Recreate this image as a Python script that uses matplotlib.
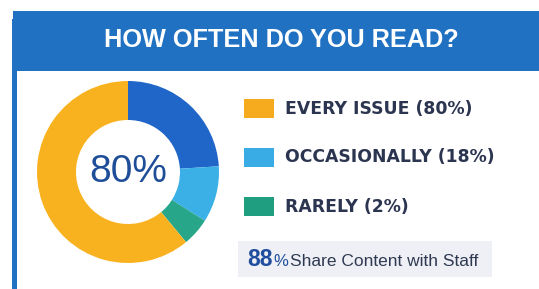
import matplotlib
matplotlib.use("Agg")
import matplotlib.pyplot as plt
from matplotlib.patches import Rectangle

# data
segment_shares = [24, 10, 5, 61]          # donut segments, clockwise from top
segment_colors = ['#2066C8', '#3BB0E6', '#27A68A', '#F9B21F']
legend_labels = ['EVERY ISSUE (80%)', 'OCCASIONALLY (18%)', 'RARELY (2%)']
legend_colors = ['#F6AA1E', '#3AACE5', '#1F9E80']
center_label = '80%'
share_value = '88%'
share_text = 'Share Content with Staff'
title = 'HOW OFTEN DO YOU READ?'

W, H = 539, 289
fig = plt.figure(figsize=(W / 100, H / 100), dpi=100)
fig.patch.set_facecolor('white')

# background axes in pixel coordinates
bg = fig.add_axes([0, 0, 1, 1])
bg.set_xlim(0, W)
bg.set_ylim(H, 0)
bg.axis('off')

blue = '#2171C3'
bg.add_patch(Rectangle((13, 11), W - 13, 60, color=blue, lw=0))
bg.add_patch(Rectangle((12, 19), 5, H - 19, color=blue, lw=0))
bg.text(281, 40, title, color='white', ha='center', va='center',
        fontsize=18.2, fontweight='bold', family='Liberation Sans')

# legend
ys = [108, 157, 206]
for lab, col, y in zip(legend_labels, legend_colors, ys):
    bg.add_patch(Rectangle((244, y - 9.5), 30, 19, color=col, lw=0))
    bg.text(285, y + 0.5, lab, color='#2B3550', ha='left', va='center',
            fontsize=12.4, fontweight='bold', family='DejaVu Sans')

# share box
bg.add_patch(Rectangle((238, 241), 254, 36, color='#EEF0F5', lw=0))
base = 266
bg.text(247, base, share_value[:-1], color='#1F4E9E', ha='left', va='baseline',
        fontsize=16.5, fontweight='bold', family='Liberation Sans')
bg.text(273, base, share_value[-1], color='#1F4E9E', ha='left', va='baseline',
        fontsize=12, family='Liberation Sans')
bg.text(290, base, share_text, color='#2F3A52', ha='left', va='baseline',
        fontsize=12.5, family='Liberation Sans')

# donut
cx, cy, r = 128, 172, 91
ax = fig.add_axes([(cx - r) / W, (H - cy - r) / H, 2 * r / W, 2 * r / H])
ax.pie(segment_shares, colors=segment_colors, startangle=90, counterclock=False,
       wedgeprops=dict(width=1 - 52 / 91, edgecolor='none'))
ax.set_xlim(-1, 1)
ax.set_ylim(-1, 1)
ax.axis('off')
ax.text(0, 0, center_label, ha='center', va='center', color='#1F4E99',
        fontsize=28, family='Liberation Sans')

fig.savefig('out.png', dpi=100)
